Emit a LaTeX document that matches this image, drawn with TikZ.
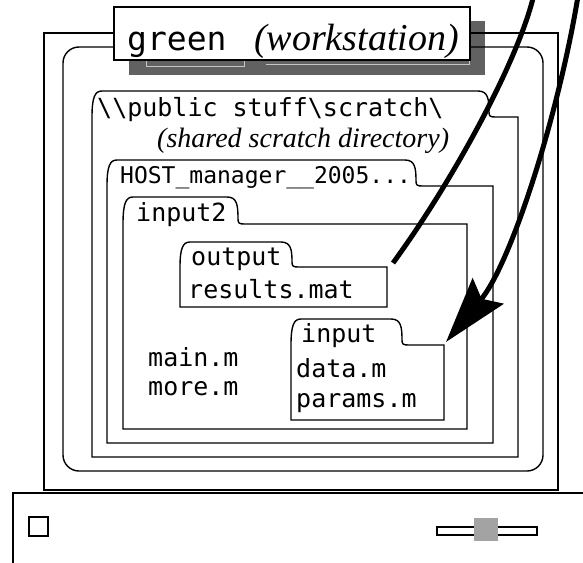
\documentclass[tikz,border=0pt]{standalone}
\usepackage{fontspec}
\newfontfamily\monofont{DejaVu Sans Mono}
\newfontfamily\notefont{Liberation Serif}
\usetikzlibrary{arrows.meta}
\definecolor{shadowgray}{gray}{0.38}
\definecolor{knobgray}{gray}{0.64}
\tikzset{frame/.style = {draw, line width = 1.4pt}}
\tikzset{fname/.style = {anchor = base west, inner sep = 0,
                         font = \monofont\fontsize{25}{30}\selectfont}}
\tikzset{note/.style = {anchor = base west, inner sep = 0,
                        font = \notefont\itshape\fontsize{28}{32}\selectfont}}
\tikzset{link/.style = {line width = 5pt}}

% folder: left, tab top, tab end, body top, right, bottom
\newcommand{\folder}[6]{%
  \draw [frame, fill = white] (#1, #4) .. controls (#1, #2+6) and (#1+3, #2) .. (#1+10, #2)
    -- (#3-11, #2) .. controls (#3-1, #2) and (#3, #2+8) .. (#3, #4-5)
    .. controls (#3, #4-1) and (#3+1, #4) .. (#3+6, #4)
    -- (#5, #4) -- (#5, #6) -- (#1, #6) -- cycle;}

\begin{document}
\begin{tikzpicture}[x = 1pt, y = -1pt]
  \useasboundingbox (0, 0) rectangle (583, 562);
  \clip (0, 0) rectangle (583, 562);

  % base unit
  \draw [line width = 2pt] (13, 493) rectangle (600, 600);
  \draw [line width = 1.5pt] (29, 517) rectangle (48, 536);
  \draw [line width = 1.5pt] (437, 527) rectangle (537, 535);
  \fill [knobgray] (474, 518) rectangle (498, 541);

  % monitor and screen
  \fill [shadowgray] (129, 21) rectangle (485, 75);
  \draw [gray!45, line width = 0.8pt] (146, 60) -- (146, 66) -- (244, 66) -- (244, 60);
  \draw [gray!45, line width = 0.8pt] (266, 64) -- (469, 64) -- (469, 60);
  \draw [frame, line width = 1.6pt] (44, 33) rectangle (558, 490);
  \draw [frame, rounded corners = 16pt] (63, 47) rectangle (543, 471);

  \folder{92}{91}{489}{117}{518}{457}
  \folder{107}{160}{416}{186}{493}{443}
  \folder{123}{197}{238}{224}{467}{429}
  \folder{180}{242}{292}{267}{387}{307}
  \folder{291}{319}{402}{345}{444}{420}

  % workstation label
  \draw [line width = 1.8pt, fill = white] (114, 7) rectangle (470, 60);
  \node [fname, font = \monofont\fontsize{33}{36}\selectfont] (ws) at (127, 50) {green};
  \node [note, font = \notefont\itshape\fontsize{38}{42}\selectfont] (ws-note) at (254, 50) {(workstation)};

  \node [fname, font = \monofont\fontsize{25}{30}\selectfont] (scratch) at (97, 116)
    {\textbackslash\textbackslash public stuff\textbackslash scratch\textbackslash};
  \node [note] (scratch-note) at (157, 147) {(shared scratch directory)};
  \node [fname, font = \monofont\fontsize{23}{28}\selectfont] (host) at (120, 183) {HOST\_manager\_\_2005...};
  \node [fname] (input2) at (136, 221) {input2};
  \node [fname] (output) at (191, 265) {output};
  \node [fname] (results) at (188, 298) {results.mat};
  \node [fname] (input) at (301, 342) {input};
  \node [fname] (data) at (296, 377) {data.m};
  \node [fname] (params) at (296, 407) {params.m};
  \node [fname] (main) at (148, 366) {main.m};
  \node [fname] (more) at (148, 395) {more.m};

  % data flow
  \coordinate (out-start) at (535, -10);
  \coordinate (out-end) at (393, 263);
  \coordinate (in-start) at (579, -10);
  \coordinate (in-end) at (446, 342);
  \draw [link] (out-start) .. controls (520, 60) and (450, 185) .. (out-end);
  \draw [link, -{Stealth[length = 66pt, width = 40pt, inset = 10pt]}]
    (in-start) .. controls (560, 110) and (512, 262) .. (in-end);
\end{tikzpicture}
\end{document}
